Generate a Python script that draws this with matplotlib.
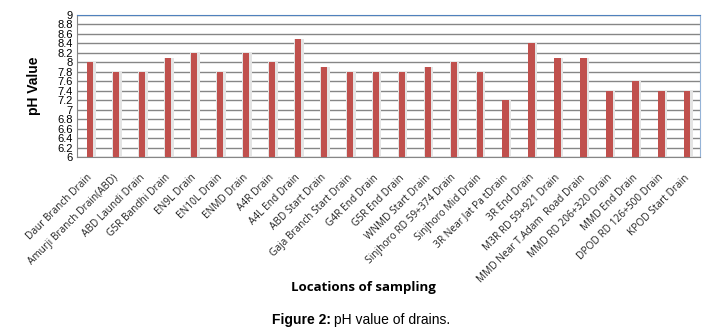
import matplotlib.pyplot as plt
import matplotlib.transforms as mtransforms
import numpy as np

locations = [
    "Daur Branch Drain", "Amurji Branch Drain(ABD)", "ABD Laundi Drain",
    "G5R Bandhi Drain", "EN9L Drain", "EN10L Drain", "ENMD Drain",
    "A4R Drain", "A4L End Drain", "ABD Start Drain",
    "Gaja Branch Start Drain", "G4R End Drain", "G5R End Drain",
    "WNMD Start Drain", "Sinjhoro RD 59+374 Drain", "Sinjhoro Mid Drain",
    "3R Near Jat Pa tDrain", "3R End Drain", "M3R RD 59+921 Drain",
    "MMD Near T.Adam  Road Drain", "MMD RD 206+320 Drain", "MMD End Drain",
    "DPOD RD 126+500 Drain", "KPOD Start Drain",
]
ph_values = [8.0, 7.8, 7.8, 8.1, 8.2, 7.8, 8.2, 8.0, 8.5, 7.9,
             7.8, 7.8, 7.8, 7.9, 8.0, 7.8, 7.2, 8.4, 8.1, 8.1,
             7.4, 7.6, 7.4, 7.4]
yticks = np.round(np.arange(6, 9.01, 0.2), 1)

fig = plt.figure(figsize=(7.28, 3.33), dpi=100)
ax = fig.add_axes([0.106, 0.5285, 0.856, 0.4265])

x = np.arange(len(locations))
# soft shadow behind bars
ax.bar(x + 0.04, [v - 6 for v in ph_values], bottom=6, width=0.36,
       color="#e4e4e4", zorder=2)
ax.bar(x, [v - 6 for v in ph_values], bottom=6, width=0.24,
       color="#C0504D", zorder=3)

ax.set_xlim(-0.5, len(locations) - 0.5)
ax.set_ylim(6, 9)
ax.set_yticks(yticks)
ax.set_yticklabels(["%g" % t for t in yticks], fontsize=8,
                   fontfamily="Liberation Sans")
ax.yaxis.grid(True, color="#868686", linewidth=1.0, zorder=1)
ax.set_axisbelow(True)
ax.tick_params(axis="y", length=0, pad=3)
ax.tick_params(axis="x", length=0, pad=11)

ax.set_xticks(x)
ax.set_xticklabels(locations, rotation=45, ha="right",
                   rotation_mode="anchor", fontsize=7.3,
                   fontfamily="Open Sans", color="#222222")
shift = mtransforms.ScaledTranslation(-3 / 100, 0, fig.dpi_scale_trans)
for lbl in ax.get_xticklabels():
    lbl.set_transform(lbl.get_transform() + shift)

for side in ["top", "right"]:
    ax.spines[side].set_color("#4f81bd")
ax.spines["right"].set_color("#95b3d7")
ax.spines["left"].set_color("#868686")
ax.spines["bottom"].set_color("#868686")

ax.set_ylabel("pH Value", fontsize=10, fontweight="bold",
              fontfamily="Liberation Sans", labelpad=12)
fig.text(0.499, 0.138, "Locations of sampling", ha="center", va="center",
         fontsize=9.5, fontweight="bold", fontfamily="Open Sans")

fig.text(0.374, 0.039, "Figure 2:", ha="left", va="center", fontsize=10,
         fontweight="bold", fontfamily="Liberation Sans")
fig.text(0.459, 0.039, "pH value of drains.", ha="left", va="center",
         fontsize=10, fontfamily="Liberation Sans")

plt.savefig("out.png", dpi=100)
